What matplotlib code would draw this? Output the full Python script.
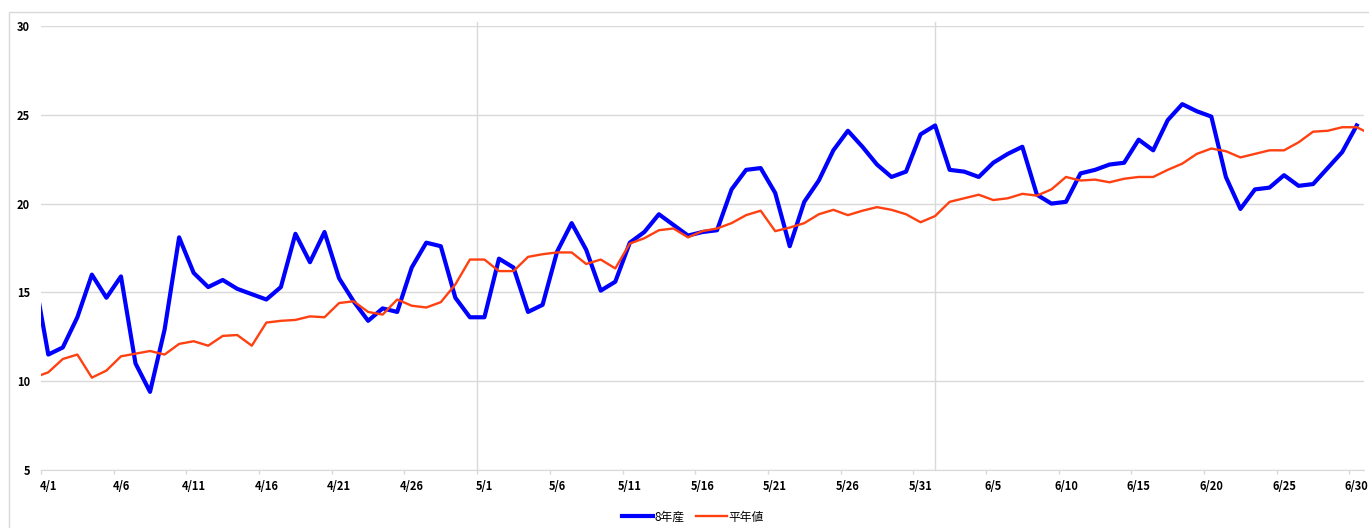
import matplotlib.pyplot as plt
import matplotlib.patches as patches
import pandas as pd

plt.rcParams['font.family'] = ['Noto Sans CJK JP', 'DejaVu Sans']

# dates 3/31 .. 7/1 (the chart shows 4/1 .. 6/30, the ends are clipped)
dates = pd.date_range('2026-03-31', '2026-07-01')
date_labels = [f'{d.month}/{d.day}' for d in dates]

# 8年産 : 3/31 .. 6/30
y2026 = [16.1,
         11.5, 11.9, 13.6, 16.0, 14.7, 15.9, 11.0, 9.4, 12.9, 18.1,
         16.1, 15.3, 15.7, 15.2, 14.9, 14.6, 15.3, 18.3, 16.7, 18.4,
         15.8, 14.5, 13.4, 14.1, 13.9, 16.4, 17.8, 17.6, 14.7, 13.6,
         13.6, 16.9, 16.4, 13.9, 14.3, 17.3, 18.9, 17.4, 15.1, 15.6,
         17.8, 18.4, 19.4, 18.8, 18.2, 18.4, 18.5, 20.8, 21.9, 22.0,
         20.6, 17.6, 20.1, 21.3, 23.0, 24.1, 23.2, 22.2, 21.5, 21.8,
         23.9,
         24.4, 21.9, 21.8, 21.5, 22.3, 22.8, 23.2, 20.5, 20.0, 20.1,
         21.7, 21.9, 22.2, 22.3, 23.6, 23.0, 24.7, 25.6, 25.2, 24.9,
         21.5, 19.7, 20.8, 20.9, 21.6, 21.0, 21.1, 22.0, 22.9, 24.4]

# 平年値 : 3/31 .. 7/1
normal = [10.2,
          10.5, 11.25, 11.5, 10.2, 10.6, 11.4, 11.55, 11.7, 11.5, 12.1,
          12.25, 12.0, 12.55, 12.6, 12.0, 13.3, 13.4, 13.45, 13.65, 13.6,
          14.4, 14.5, 13.9, 13.75, 14.6, 14.25, 14.15, 14.45, 15.45, 16.85,
          16.85, 16.2, 16.2, 17.0, 17.15, 17.25, 17.25, 16.6, 16.85, 16.35,
          17.75, 18.05, 18.5, 18.6, 18.1, 18.45, 18.6, 18.9, 19.35, 19.6,
          18.45, 18.65, 18.9, 19.4, 19.65, 19.35, 19.6, 19.8, 19.65, 19.4,
          18.95,
          19.3, 20.1, 20.3, 20.5, 20.2, 20.3, 20.55, 20.45, 20.8, 21.5,
          21.3, 21.35, 21.2, 21.4, 21.5, 21.5, 21.9, 22.25, 22.8, 23.1,
          22.95, 22.6, 22.8, 23.0, 23.0, 23.45, 24.05, 24.1, 24.3, 24.3,
          23.9]

W, H = 1369, 528
fig = plt.figure(figsize=(W / 100, H / 100), dpi=100)
ax = fig.add_axes([41 / W, 1 - 470 / H, (1364 - 41) / W, (470 - 26) / H])

# outer chart frame
fig.patches.append(patches.Rectangle((9 / W, -0.1), 1.2, 1.1 - 12 / H, transform=fig.transFigure,
                                     fill=False, edgecolor='#d9d9d9', linewidth=1))

x_blue = list(range(len(y2026)))
x_norm = list(range(len(normal)))
ax.plot(x_blue, y2026, color='#0000ff', linewidth=3.0, label='8年産', zorder=3)
ax.plot(x_norm, normal, color='#ff4010', linewidth=1.7, label='平年値', zorder=4)

ax.set_xlim(0.5, 91.5)
ax.set_ylim(5, 30)
ax.set_yticks([5, 10, 15, 20, 25, 30])
ax.grid(axis='y', color='#d9d9d9', linewidth=1)
ax.set_axisbelow(True)

# month separators
for xv in [30.5, 62]:
    ax.axvline(xv, ymin=0, ymax=1.008, color='#d9d9d9', linewidth=1, clip_on=False, zorder=1)

ax.set_xticks([i - 0.5 for i in range(1, 92, 5)])
ax.set_xticklabels([])
ax.set_xticks(list(range(1, 92, 5)), minor=True)
ax.set_xticklabels([date_labels[i] for i in range(1, 92, 5)], minor=True)
ax.tick_params(axis='x', which='major', length=3, color='#d9d9d9', width=1)
ax.tick_params(axis='x', which='minor', length=0, pad=7, labelsize=8)
ax.tick_params(axis='y', length=0, pad=8, labelsize=8)
for lbl in ax.get_xticklabels(minor=True) + ax.get_yticklabels():
    lbl.set_fontweight('bold')

for s in ['top', 'right', 'left']:
    ax.spines[s].set_visible(False)
ax.spines['bottom'].set_color('#d9d9d9')

ax.legend(loc='center', bbox_to_anchor=(693 / W, 1 - 517 / H), bbox_transform=fig.transFigure,
          ncol=2, frameon=False, fontsize=8.5, handlelength=2.6, handletextpad=0.15,
          columnspacing=1.0)

plt.savefig('out.png', dpi=100)
